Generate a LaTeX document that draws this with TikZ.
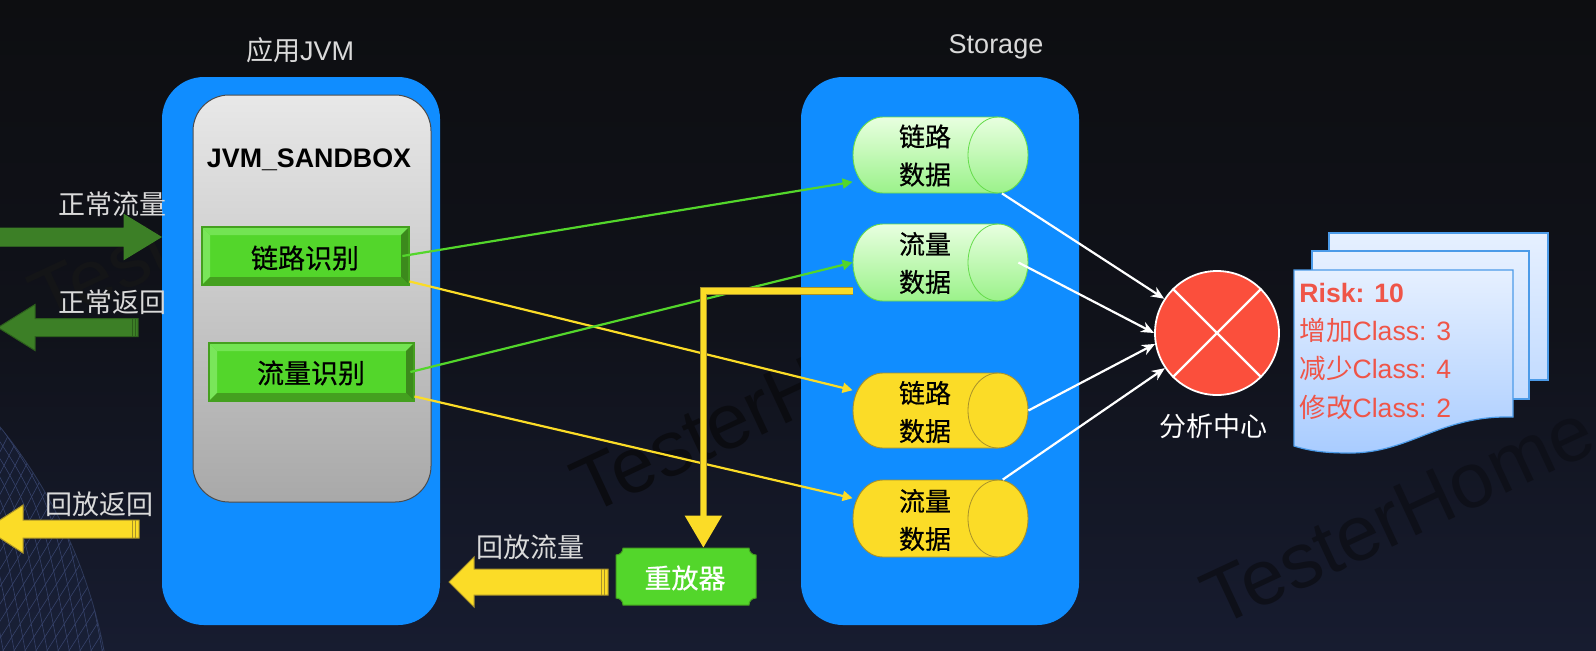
\documentclass[tikz,border=0pt]{standalone}
\usepackage{fontspec}
\setmainfont{Liberation Sans}
\newfontfamily\cjk{Noto Sans CJK SC}
\newfontfamily\cjkb[FakeBold=0.6]{Noto Sans CJK SC}
\usetikzlibrary{arrows.meta,calc,positioning}
\definecolor{panelblue}{HTML}{108DFF}
\definecolor{bevelmid}{HTML}{53D62B}
\definecolor{bevellight}{HTML}{79E65A}
\definecolor{beveldark}{HTML}{44A01F}
\definecolor{beveldarker}{HTML}{3C8A1C}
\definecolor{arrowgreen}{HTML}{3C7F26}
\definecolor{arrowgreend}{HTML}{2C5E1C}
\definecolor{gold}{HTML}{FBDC27}
\definecolor{goldd}{HTML}{A8922A}
\definecolor{labelgrey}{HTML}{DADADA}
\definecolor{riskred}{HTML}{EF5548}
\definecolor{meshc}{HTML}{36426A}
\definecolor{meshtop}{HTML}{141929}
\definecolor{meshbot}{HTML}{1E2849}
\definecolor{meshedge}{HTML}{2D3858}
\definecolor{bgtop}{HTML}{0D0E11}
\definecolor{bgmid}{HTML}{10121A}
\definecolor{bgbot}{HTML}{171C30}
\definecolor{circred}{HTML}{FB4F3C}
\definecolor{doca}{HTML}{E6F0FF}
\definecolor{docb}{HTML}{4C9BE8}
\definecolor{docc}{HTML}{A9CCFF}
\definecolor{docd}{HTML}{C4DCFF}
\definecolor{cyla}{HTML}{E8FFE0}
\definecolor{cylb}{HTML}{9BF28A}
\definecolor{cyls}{HTML}{66DC4C}
\definecolor{marka}{HTML}{141517}
\definecolor{markb}{HTML}{0B0C11}
\definecolor{markc}{HTML}{0E1019}
\newcommand{\bevelbox}[4]{%
  \fill[bevelmid] (#1,#2) rectangle (#3,#4);
  \fill[bevellight!85!bevelmid] (#1,#2) -- (#3,#2) -- (#3-8,#2+8) -- (#1+8,#2+8) -- cycle;
  \fill[bevellight] (#1,#2) -- (#1+8,#2+8) -- (#1+8,#4-8) -- (#1,#4) -- cycle;
  \fill[beveldarker] (#3,#2) -- (#3,#4) -- (#3-8,#4-8) -- (#3-8,#2+8) -- cycle;
  \fill[beveldark] (#1,#4) -- (#3,#4) -- (#3-8,#4-8) -- (#1+8,#4-8) -- cycle;
  \draw[beveldark,line width=0.6pt] (#1,#2) rectangle (#3,#4);
}
\newcommand{\cylshape}[7]{%
  \path[draw=#7,line width=0.45pt,top color=#5,bottom color=#6]
    (#1+30,#2) -- (#3-30,#2)
    .. controls (#3-13.4,#2) and (#3,#2/2+#4/2-0.276*#4+0.276*#2) .. (#3,#2/2+#4/2)
    .. controls (#3,#2/2+#4/2+0.276*#4-0.276*#2) and (#3-13.4,#4) .. (#3-30,#4)
    -- (#1+30,#4)
    .. controls (#1+13.4,#4) and (#1,#2/2+#4/2+0.276*#4-0.276*#2) .. (#1,#2/2+#4/2)
    .. controls (#1,#2/2+#4/2-0.276*#4+0.276*#2) and (#1+13.4,#2) .. (#1+30,#2) -- cycle;
  \draw[#7,line width=0.4pt]
    (#3-30,#2)
    .. controls (#3-46.6,#2) and (#3-60,#2/2+#4/2-0.276*#4+0.276*#2) .. (#3-60,#2/2+#4/2)
    .. controls (#3-60,#2/2+#4/2+0.276*#4-0.276*#2) and (#3-46.6,#4) .. (#3-30,#4);
}
% tip, base, tail, y, half shaft, half head, stripe x, colours
\newcommand{\blockarrow}[9]{%
  \path[fill=#8,draw=#9,line width=0.5pt]
    (#1,#4) -- (#2,#4-#6) -- (#2,#4-#5) -- (#3,#4-#5) -- (#3,#4+#5) -- (#2,#4+#5) -- (#2,#4+#6) -- cycle;
  \draw[#9,line width=0.5pt] (#7,#4-#5) -- (#7,#4+#5) (#7+3,#4-#5) -- (#7+3,#4+#5);
}
\tikzset{
  x=0.5pt,y=-0.5pt,
  panel/.style={rectangle,inner sep=0pt,fill=panelblue,rounded corners=21pt,minimum width=139pt,minimum height=274pt},
  hdr/.style={inner sep=0pt,text=labelgrey,font=\fontsize{13.5}{16}\selectfont},
  grey/.style={inner sep=0pt,text=labelgrey,font=\cjk\fontsize{13.5}{16}\selectfont},
  bevellabel/.style={inner sep=0pt,text=black,font=\cjkb\fontsize{13.5}{16}\selectfont},
  cyllabel/.style={inner sep=0pt,text=black,align=center,font=\cjkb\fontsize{13}{19}\selectfont},
  doctext/.style={inner sep=0pt,anchor=west,text=riskred,font=\fontsize{13.3}{16}\selectfont},
  docpage/.style={draw=docb,line width=0.6pt},
  greenlink/.style={draw=bevelmid,line width=1.1pt,-{Triangle[length=5pt,width=5pt]}},
  yellowlink/.style={draw=gold,line width=1.1pt,-{Triangle[length=5pt,width=5pt]}},
  whitelink/.style={draw=white,line width=1.1pt,-{Stealth[length=6.5pt,width=5.5pt]}},
  wmark/.style={inner sep=0pt,anchor=base west,rotate=25,text=#1,font=\fontsize{39}{39}\selectfont},
}
\begin{document}
\begin{tikzpicture}
\useasboundingbox (0,0) rectangle (1596,650);
% background
\shade[top color=bgtop,bottom color=bgbot,middle color=bgmid] (0,0) rectangle (1596,650);
% globe mesh
\begin{scope}
  \clip (0,0) rectangle (1596,650);
  \shade[top color=meshtop,bottom color=meshbot] (-394,746) circle [radius=253.5pt];
  \draw[meshedge,line width=0.4pt] (-394,746) circle [radius=253.5pt];
  \clip (-394,746) circle [radius=253.5pt];
  \foreach \t in {-260,-249,...,20} {
    \draw[meshc,line width=0.3pt] (\t,400) .. controls (\t+70,500) .. (\t+100,660);
  }
  \foreach \t in {-40,-29,...,300} {
    \draw[meshc,line width=0.3pt] (\t,400) .. controls (\t-60,520) .. (\t-150,660);
  }
\end{scope}
% watermarks
\node[wmark=marka] (w1) at (46,328) {TesterHome};
\node[wmark=markb] (w2) at (588,516) {TesterHome};
\node[wmark=markc] (w3) at (1218,628) {TesterHome};
% panels
\node[panel] (jvm) at (301,351) {};
\node[panel] (store) at (940,351) {};
\node[hdr] (jvmt) at (300,50) {{\cjk 应用}JVM};
\node[hdr] (storet) at (996,47) {Storage};
% sandbox
\node[rectangle,inner sep=0pt,draw=black!70,line width=0.5pt,rounded corners=18pt,
      top color=black!9,bottom color=black!34,minimum width=119pt,minimum height=203.5pt] (sandbox) at (312,298.5) {};
\node[inner sep=0pt,text=black,font=\bfseries\fontsize{13.4}{16}\selectfont] (sbt) at (309,160) {JVM\_SANDBOX};
% bevel boxes
\bevelbox{202}{227}{409}{285}
\node[rectangle,inner sep=0pt,minimum width=103.5pt,minimum height=29pt] (b1) at (305.5,256) {};
\node[bevellabel] (b1t) at (305,258) {链路识别};
\bevelbox{209}{343}{414}{401}
\node[rectangle,inner sep=0pt,minimum width=102.5pt,minimum height=29pt] (b2) at (311.5,372) {};
\node[bevellabel] (b2t) at (311,373) {流量识别};
% cylinders
\cylshape{853}{117}{1028}{193}{cyla}{cylb}{cyls}
\cylshape{853}{224}{1028}{301}{cyla}{cylb}{cyls}
\cylshape{853}{373}{1028}{448}{gold}{gold}{goldd}
\cylshape{853}{480}{1028}{557}{gold}{gold}{goldd}
\node[rectangle,inner sep=0pt,minimum width=87.5pt,minimum height=38pt] (c1) at (940.5,155) {};
\node[rectangle,inner sep=0pt,minimum width=87.5pt,minimum height=38.5pt] (c2) at (940.5,262.5) {};
\node[rectangle,inner sep=0pt,minimum width=87.5pt,minimum height=37.5pt] (c3) at (940.5,410.5) {};
\node[rectangle,inner sep=0pt,minimum width=87.5pt,minimum height=38.5pt] (c4) at (940.5,518.5) {};
\node[cyllabel] (c1t) at (925,155.5) {链路\\数据};
\node[cyllabel] (c2t) at (925,263) {流量\\数据};
\node[cyllabel] (c3t) at (925,412) {链路\\数据};
\node[cyllabel] (c4t) at (925,520) {流量\\数据};
% block arrows
\blockarrow{161}{124}{-2}{237}{9}{22.5}{2}{arrowgreen}{arrowgreen}
\blockarrow{-2}{35}{138}{327.5}{9}{23}{132}{arrowgreen}{arrowgreend}
\blockarrow{-14}{23}{139}{529}{9}{24}{132}{gold}{goldd}
\blockarrow{449}{474}{608}{582}{13}{25}{601}{gold}{goldd}
\node[grey] (l1) at (112,204) {正常流量};
\node[grey] (l2) at (112,302) {正常返回};
\node[grey] (l3) at (100,504) {回放返回};
\node[grey] (l4) at (530,547) {回放流量};
% replayer
\path[fill=bevelmid,draw=beveldark,line width=0.5pt]
  (623,548) -- (749,548) .. controls (749,552) and (752,555) .. (756,555)
  -- (756,598) .. controls (752,598) and (749,601) .. (749,605)
  -- (623,605) .. controls (623,601) and (620,598) .. (616,598)
  -- (616,555) .. controls (620,555) and (623,552) .. (623,548) -- cycle;
\node[rectangle,inner sep=0pt,minimum width=70pt,minimum height=28.5pt] (rep) at (686,576.5) {};
\node[inner sep=0pt,text=white,font=\cjkb\fontsize{13.5}{16}\selectfont] (rept) at (685,578) {重放器};
% analysis
\node[circle,inner sep=0pt,minimum size=62pt,fill=circred,draw=white,line width=0.9pt] (an) at (1217,333) {};
\draw[white,line width=1.1pt] (an.45) -- (an.225) (an.135) -- (an.315);
\node[inner sep=0pt,text=white,font=\cjk\fontsize{13.5}{16}\selectfont] (ant) at (1213,426) {分析中心};
% documents
\path[docpage,top color=doca,bottom color=docd] (1329,233) -- (1548,233) -- (1548,380) -- (1329,380) -- cycle;
\path[docpage,top color=doca,bottom color=docd] (1312,251) -- (1529,251) -- (1529,399) -- (1312,399) -- cycle;
\path[docpage,top color=doca,bottom color=docc] (1294,270) -- (1513,270) -- (1513,417)
  .. controls (1440,415) and (1410,453) .. (1350,453) .. controls (1325,453) and (1310,451) .. (1294,446) -- cycle;
\node[doctext,font=\bfseries\fontsize{13.3}{16}\selectfont] (d1) at (1299,293) {Risk: 10};
\node[doctext] (d2) at (1299,330) {{\cjk 增加}Class: 3};
\node[doctext] (d3) at (1299,368) {{\cjk 减少}Class: 4};
\node[doctext] (d4) at (1299,407) {{\cjk 修改}Class: 2};
% connectors
\draw[greenlink] ([xshift=-3.5pt]b1.east) -- (c1.197);
\draw[yellowlink] ([yshift=2pt]b1.south east) -- (c3.167);
\draw[greenlink] ([xshift=-2pt]b2.east) -- (c2.west);
\draw[yellowlink] ([yshift=2.5pt]b2.south east) -- (c4.167);
\draw[draw=goldd,line width=3.6pt] (c2.198) -| ([yshift=16pt]rep.59.2);
\draw[draw=gold,line width=2.6pt,-{Triangle[length=16pt,width=18pt]}] (c2.198) -| (rep.59.2);
\draw[whitelink] (c1.-32.6) -- (an.147.3);
\draw[whitelink] ([xshift=-5pt]c2.east) -- (an.west);
\draw[whitelink] (c3.east) -- (an.190);
\draw[whitelink] (c4.32.6) -- (an.214);
\end{tikzpicture}
\end{document}
